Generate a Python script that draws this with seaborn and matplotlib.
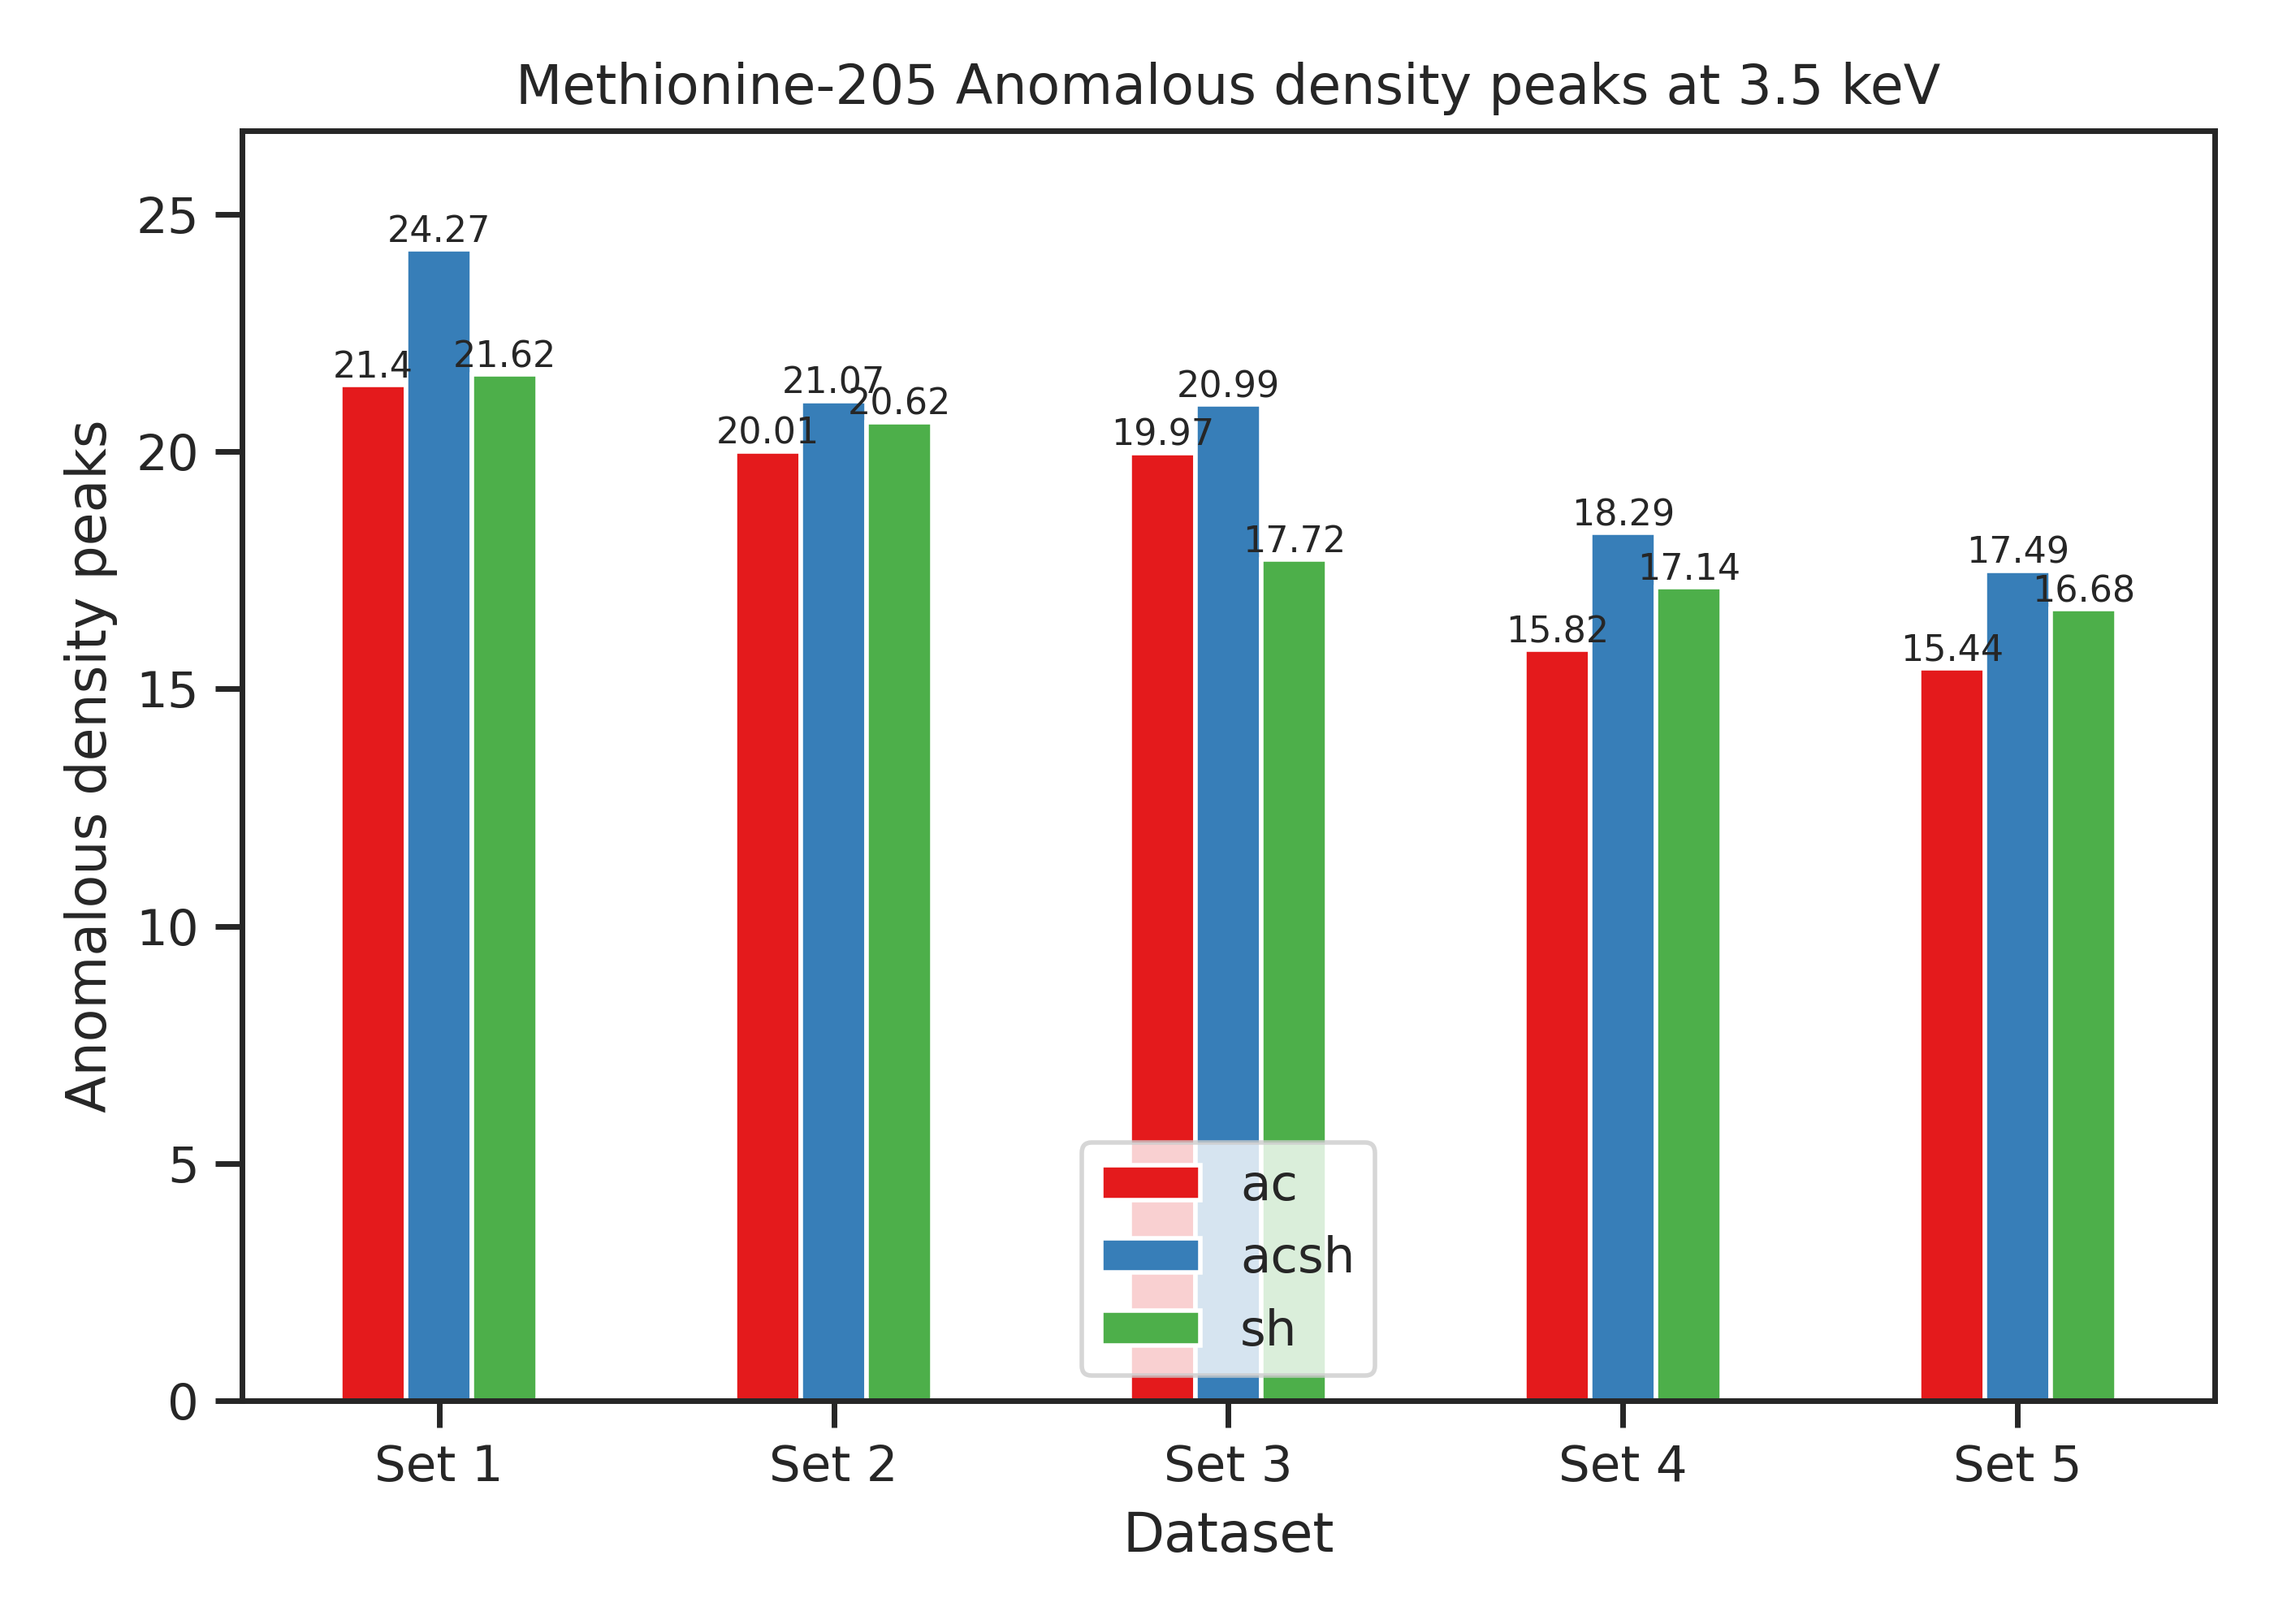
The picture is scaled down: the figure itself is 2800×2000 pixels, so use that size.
import numpy as np
import pandas as pd

import matplotlib.pyplot as plt
import seaborn as sns

# peak heights
DATASETS = ['Set 1', 'Set 2', 'Set 3', 'Set 4', 'Set 5']
AC = [21.4, 20.01, 19.97, 15.82, 15.44]
ACSH = [24.27, 21.07, 20.99, 18.29, 17.49]
SH = [21.62, 20.62, 17.72, 17.14, 16.68]
METHODS = ['ac', 'acsh', 'sh']


def build_frame():
    rows = []
    for method, values in zip(METHODS, [AC, ACSH, SH]):
        for name, value in zip(DATASETS, values):
            rows.append({'Dataset': name, 'method': method, 'peak': value})
    return pd.DataFrame(rows)


def main():
    df = build_frame()

    sns.set_theme(style='ticks', context='notebook')
    fig, ax = plt.subplots(figsize=(7, 5), dpi=400)

    sns.barplot(data=df, x='Dataset', y='peak', hue='method',
                palette='Set1', width=0.5, errorbar=None,
                edgecolor='white', linewidth=1, saturation=1, ax=ax)

    for container in ax.containers:
        ax.bar_label(container, fontsize=8)

    ax.set_xlim(-0.5, len(DATASETS) - 0.5)
    ax.set_ylim(0, max(ACSH) + 2.49)
    ax.set_xlabel('Dataset')
    ax.set_ylabel('Anomalous density peaks')
    ax.set_title('Methionine-205 Anomalous density peaks at 3.5 keV')
    sns.move_legend(ax, 'lower center', title=None)

    fig.subplots_adjust(left=0.1063, right=0.974, bottom=0.1375, top=0.9195)
    fig.savefig('out.png', dpi=400)


if __name__ == "__main__":
    main()
